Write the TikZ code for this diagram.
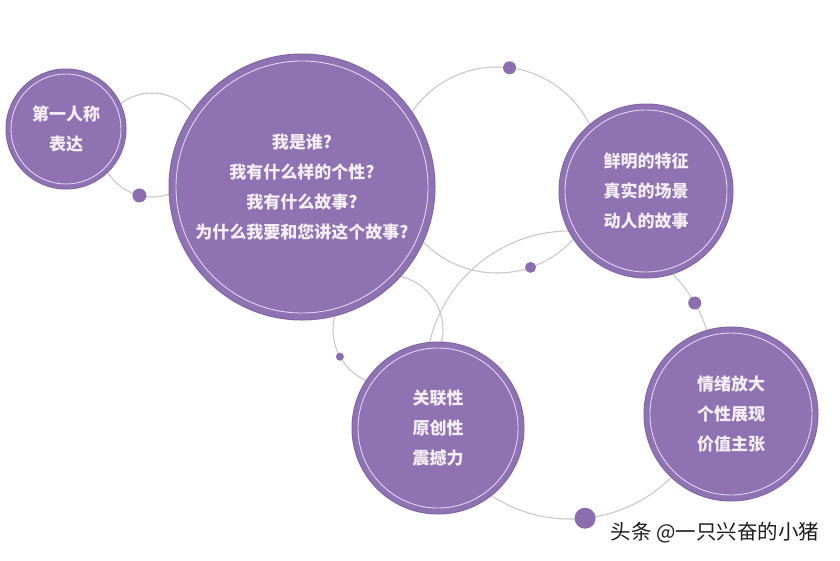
\documentclass[tikz,border=0pt]{standalone}
\usepackage{fontspec}
\newfontfamily\cjk{Noto Sans CJK SC}
\definecolor{bub}{HTML}{8E72B1}
\definecolor{bubedge}{HTML}{8466A8}
\definecolor{lav}{HTML}{E2D2F6}
\definecolor{ringgray}{HTML}{C9C9C9}
\definecolor{txt}{HTML}{F6EEF6}
\definecolor{dotc}{HTML}{8C6EAF}
\definecolor{wmc}{HTML}{1E1E1E}
\tikzset{
  ringc/.style={circle, draw=ringgray, line width=1.1pt, inner sep=0pt, outer sep=0pt},
  bubble/.style={circle, fill=bub, draw=bubedge, line width=1pt, inner sep=0pt, outer sep=0pt,
     text=txt, align=center, font=\cjk\bfseries\fontsize{17}{30}\selectfont},
  innerring/.style={draw=lav, line width=0.9pt},
  dotn/.style={circle, fill=dotc, inner sep=0pt, outer sep=0pt},
  wmark/.style={text=wmc, font=\cjk\fontsize{20.5}{24}\selectfont, inner sep=0pt}
}
\begin{document}
\begin{tikzpicture}[x=1pt,y=-1pt]
\useasboundingbox (0,0) rectangle (840,560);
\fill[white] (0,0) rectangle (840,560);
% decorative rings
\node[ringc, minimum size=104pt] (ringA) at (152,145) {};
\node[ringc, minimum size=206pt] (ringB) at (497,170) {};
\node[ringc, minimum size=288pt] (ringC) at (570,375) {};
\node[ringc, minimum size=110pt] (ringD) at (388,330) {};
% dots on rings
\node[dotn, minimum size=14pt] (dA) at (ringA.-104) {};
\node[dotn, minimum size=13pt] (dB1) at (ringB.83) {};
\node[dotn, minimum size=11pt] (dB2) at (ringB.-71) {};
\node[dotn, minimum size=13pt] (dC1) at (ringC.30) {};
\node[dotn, minimum size=21pt] (dC2) at (ringC.-84) {};
\node[dotn, minimum size=8pt] (dD) at (ringD.209) {};
% bubbles
\node[bubble, minimum size=120pt] (c1) at (66,129) {第一人称\\表达};
\node[bubble, minimum size=266pt] (c2) at (302,187) {我是谁?\\我有什么样的个性?\\我有什么故事?\\为什么我要和您讲这个故事?};
\node[bubble, minimum size=174pt] (c3) at (646,191) {鲜明的特征\\真实的场景\\动人的故事};
\node[bubble, minimum size=172pt] (c4) at (438,428) {关联性\\原创性\\震撼力};
\node[bubble, minimum size=174pt] (c5) at (731,414) {情绪放大\\个性展现\\价值主张};
% inner rings
\draw[innerring] (c1.center) circle[radius=55pt];
\draw[innerring] (c2.center) circle[radius=126pt];
\draw[innerring] (c3.center) circle[radius=81pt];
\draw[innerring] (c4.center) circle[radius=80pt];
\draw[innerring] (c5.center) circle[radius=81pt];
% watermark
\node[wmark] (wm) at (715,533) {头条 @一只兴奋的小猪};
\end{tikzpicture}
\end{document}
